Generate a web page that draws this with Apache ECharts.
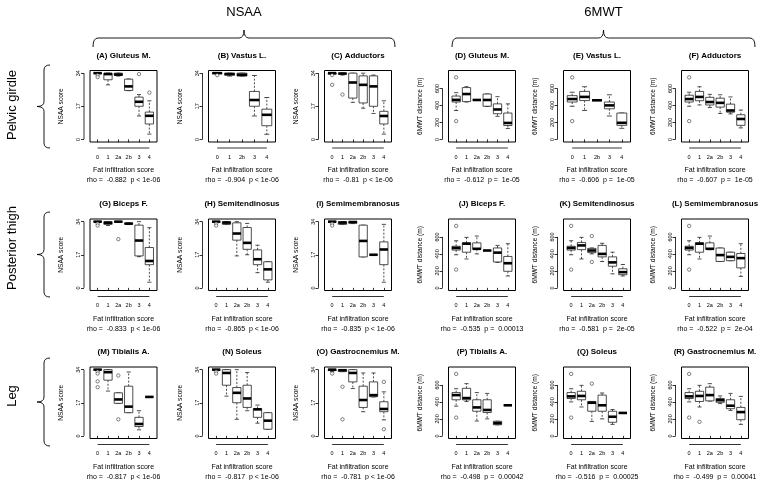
<!DOCTYPE html>
<html><head><meta charset="utf-8">
<script src="https://cdn.jsdelivr.net/npm/echarts@6/dist/echarts.min.js"></script>
<style>html,body{margin:0;padding:0;background:#fff}#c{width:760px;height:480px}</style>
</head><body><div id="c"></div>
<script>
// ---------- DATA ----------
const CATS6 = ['0','1','2a','2b','3','4'];
const CATS5 = ['0','1','2b','3','4'];
const NSAA_TICKS = [0, 17, 34];
const MWT_TICKS = [0, 200, 400, 600];
const NSAA_RANGE = [0, 34];
const MWT_RANGE = [0, 780];

const titles = ['(A) Gluteus M.','(B) Vastus L.','(C) Adductors','(D) Gluteus M.','(E) Vastus L.','(F) Adductors',
  '(G) Biceps F.','(H) Semitendinosus','(I) Semimembranosus','(J) Biceps F.','(K) Semitendinosus','(L) Semimembranosus',
  '(M) Tibialis A.','(N) Soleus','(O) Gastrocnemius M.','(P) Tibialis A.','(Q) Soleus','(R) Gastrocnemius M.'];
const rhoTexts = ['rho =  -0.882  p < 1e-06','rho =  -0.904  p < 1e-06','rho =  -0.81  p < 1e-06',
  'rho =  -0.612  p =  1e-05','rho =  -0.606  p =  1e-05','rho =  -0.607  p =  1e-05',
  'rho =  -0.833  p < 1e-06','rho =  -0.865  p < 1e-06','rho =  -0.835  p < 1e-06',
  'rho =  -0.535  p =  0.00013','rho =  -0.581  p =  2e-05','rho =  -0.522  p =  2e-04',
  'rho =  -0.817  p < 1e-06','rho =  -0.817  p < 1e-06','rho =  -0.781  p < 1e-06',
  'rho =  -0.498  p =  0.00042','rho =  -0.516  p =  0.00025','rho =  -0.499  p =  0.00041'];
const xTitle = 'Fat infiltration score';
const yTitleNSAA = 'NSAA score';
const yTitleMWT = '6MWT distance (m)';
const groupTitles = ['NSAA', '6MWT'];
const rowTitles = ['Pelvic girdle', 'Posterior thigh', 'Leg'];

// box stats per category: [lower whisker, Q1, median, Q3, upper whisker]; outliers per category
const boxA = [[34,34,34,34,34],[28,30.6,33.5,34,34],[32.5,32.8,33.3,34,34],[25,25.1,27.2,30.9,31],[12,17,19.3,21.7,23],[2.7,7.9,12.1,14,19.8]];
const outA = [[33,32],[],[],[],[33.5],[24]];
const boxB = [[34,34,34,34,34],[32.5,33,33.5,34,34],[32.5,32.5,33.2,34,34],[12,17,20.2,24.6,32.8],[2.6,7,12.6,15.5,21.5]];
const outB = [[33],[],[],[],[]];
const boxC = [[33.5,33.5,34,34,34],[33,33.5,33.8,34,34],[19,21.2,29.2,34,34],[16,18.7,28,32.6,34],[13.3,17,27.2,32.6,33],[2.7,7.9,12,14.4,19.8]];
const outC = [[33,28],[23],[],[],[],[]];
const boxD = [[340,440,465,510,550],[440,445,534,610,620],[464,464,464,464,464],[387,390,464,534,534],[271,302,352,418,503],[128,163,193,310,418]];
const outD = [[730,215],[],[],[],[],[]];
const boxE = [[390,440,475,515,555],[340,457,500,565,620],[460,460,460,460,460],[275,360,400,440,525],[130,165,195,310,310]];
const outE = [[730,215],[],[],[],[]];
const boxF = [[390,440,475,520,555],[405,455,500,565,620],[375,405,440,495,530],[305,380,430,485,525],[300,320,340,415,500],[135,165,240,290,345]];
const outF = [[730,215],[],[],[],[],[]];
const boxG = [[34,34,34,34,34],[32,32.6,33.4,34,34],[34,34,34,34,34],[32.5,32.7,33,33.2,33.3],[16,16.4,24.3,32.2,34],[2.9,11.9,13.8,20.7,30.9]];
const outG = [[33,32],[],[25],[],[],[]];
const boxH = [[34,34,34,34,34],[32.5,32.6,33.5,34,34],[16.4,24.5,27.9,33.4,34],[17,19.8,23.1,31,33.1],[7.8,11.9,14.7,19.5,21.9],[2.9,4.1,9.5,13.4,13.4]];
const outH = [[33,32],[],[],[],[],[]];
const boxI = [[34,34,34,34,34],[32.5,32.6,33.5,34,34],[33,33.2,33.8,34,34],[15.9,15.9,24.1,32.2,32.2],[17,17,17,17,17],[2.9,11.9,19.7,23.6,32.6]];
const outI = [[33,32],[],[],[],[],[]];
const boxJ = [[390,445,470,490,555],[340,420,520,530,595],[400,455,460,530,610],[440,440,440,440,440],[300,305,415,470,500],[140,195,290,370,520]];
const outJ = [[730,215],[],[],[],[],[]];
const boxK = [[390,445,470,490,555],[340,450,500,535,595],[400,415,440,465,470],[310,365,400,500,525],[165,255,300,365,420],[140,155,185,225,275]];
const outK = [[730,215],[],[610,305],[],[],[]];
const boxL = [[390,445,470,490,555],[340,420,520,530,595],[450,455,460,530,610],[311,311,386,469,469],[320,320,365,420,420],[135,235,350,405,520]];
const outL = [[730,215],[],[],[],[],[]];
const boxM = [[34,34,34,34,34],[23,28.6,32.7,34,34],[16.7,16.7,18.7,22.1,22.1],[11.9,11.9,15,25.5,32.8],[3.1,4.8,6.1,9.5,12.9],[20,20,20,20,20]];
const outM = [[33,32,28,25],[],[31,8.5],[],[],[]];
const boxN = [[34,34,34,34,34],[20.4,26,32.3,34,34],[8.5,17,22.1,24.8,34],[12.9,14.6,19.2,26,32.5],[6.5,9.5,13.6,14,15.8],[3.4,3.4,7.8,11.9,11.9]];
const outN = [[33,32],[],[],[],[],[]];
const boxO = [[33,33.5,34,34,34],[33,33,33.7,34,34],[24.3,27.7,32.3,34,34],[12.4,14.6,18.4,25.5,32.3],[20,20.1,20.9,27.7,32.3],[8.2,12.4,13.8,17.5,22.6]];
const outO = [[32],[25.2,8.5],[],[],[],[27.7,3.4]];
const boxP = [[350,425,480,510,555],[405,424,445,560,615],[175,290,335,425,510],[200,275,305,425,500],[130,131,150,172,172],[360,360,360,360,360]];
const outP = [[730,215],[],[],[],[],[]];
const boxQ = [[400,440,465,510,555],[340,425,470,525,595],[170,290,390,405,405],[200,290,360,480,505],[135,160,225,290,310],[270,270,270,270,270]];
const outQ = [[730,215],[],[615],[],[],[]];
const boxR = [[400,440,465,510,555],[340,405,470,525,595],[410,412,480,574,615],[380,395,420,440,470],[300,320,355,425,500],[135,190,280,335,465]];
const outR = [[730,215],[165],[],[],[],[]];

const panelBoxes = [boxA,boxB,boxC,boxD,boxE,boxF,boxG,boxH,boxI,boxJ,boxK,boxL,boxM,boxN,boxO,boxP,boxQ,boxR];
const panelOuts = [outA,outB,outC,outD,outE,outF,outG,outH,outI,outJ,outK,outL,outM,outN,outO,outP,outQ,outR];
const panelCats = [CATS6,CATS5,CATS6,CATS6,CATS5,CATS6, CATS6,CATS6,CATS6,CATS6,CATS6,CATS6, CATS6,CATS6,CATS6,CATS6,CATS6,CATS6];

// ---------- LAYOUT ----------
const COL_LEFT = [90, 208.5, 324.5, 448.5, 563.5, 681.5];
const ROW_TOP = [70.5, 219, 367];
const FW = 67, FH = 71.5;
const AX_OFF = 6;
const FONT = 'Liberation Sans, Arial, Helvetica, sans-serif';
const LINE = '#222';

const chart = echarts.init(document.getElementById('c'), null, {renderer: 'canvas'});
const grids = [], xAxes = [], yAxes = [], series = [], graphics = [];

function boxRender(params, api) {
  const x = api.value(0);
  const lo = api.coord([x, api.value(1)]), q1 = api.coord([x, api.value(2)]),
        md = api.coord([x, api.value(3)]), q3 = api.coord([x, api.value(4)]),
        hi = api.coord([x, api.value(5)]);
  const half = api.size([0.4, 0])[0];
  const st = half / 2;
  const cx = md[0];
  const ls = {stroke: LINE, lineWidth: 0.8, fill: null};
  const dash = {stroke: LINE, lineWidth: 0.8, lineDash: [2, 1.6], fill: null};
  return {type: 'group', children: [
    {type: 'line', shape: {x1: cx, y1: q3[1], x2: cx, y2: hi[1]}, style: dash},
    {type: 'line', shape: {x1: cx, y1: q1[1], x2: cx, y2: lo[1]}, style: dash},
    {type: 'line', shape: {x1: cx - st, y1: hi[1], x2: cx + st, y2: hi[1]}, style: ls},
    {type: 'line', shape: {x1: cx - st, y1: lo[1], x2: cx + st, y2: lo[1]}, style: ls},
    {type: 'rect', shape: {x: cx - half, y: q3[1], width: half * 2, height: q1[1] - q3[1]}, style: {stroke: LINE, lineWidth: 0.8, fill: '#fff'}},
    {type: 'line', shape: {x1: cx - half, y1: md[1], x2: cx + half, y2: md[1]}, style: {stroke: '#000', lineWidth: 2.6}}
  ]};
}

for (let i = 0; i < 18; i++) {
  const row = Math.floor(i / 6), col = i % 6;
  const isNS = col < 3;
  const cats = panelCats[i];
  const n = cats.length;
  const yr = isNS ? NSAA_RANGE : MWT_RANGE;
  const ext = (yr[1] - yr[0]) * 0.04;
  const ticks = isNS ? NSAA_TICKS : MWT_TICKS;
  const left = COL_LEFT[col], top = ROW_TOP[row];
  grids.push({left: left, top: top, width: FW, height: FH, show: true, borderColor: '#000', borderWidth: 1,
    backgroundColor: 'transparent', containLabel: false, outerBoundsMode: 'none'});
  const xt = cats.map((c, k) => k + 1);
  xAxes.push({gridIndex: i, type: 'value', min: 0.5 - 0.04 * n, max: n + 0.5 + 0.04 * n, offset: AX_OFF,
    axisLine: {show: false}, splitLine: {show: false},
    axisTick: {show: true, length: 3, customValues: xt, lineStyle: {color: '#000', width: 0.8}},
    axisLabel: {show: true, customValues: xt, fontSize: 5.5, fontFamily: FONT, color: '#000', margin: 6,
      formatter: v => cats[Math.round(v) - 1]}});
  yAxes.push({gridIndex: i, type: 'value', min: yr[0] - ext, max: yr[1] + ext, offset: AX_OFF,
    axisLine: {show: false}, splitLine: {show: false},
    axisTick: {show: true, length: 3, customValues: ticks, lineStyle: {color: '#000', width: 0.8}},
    axisLabel: {show: true, customValues: ticks, rotate: 90, fontSize: 5.5, fontFamily: FONT, color: '#000', margin: 2.5},
    name: isNS ? yTitleNSAA : yTitleMWT, nameLocation: 'middle', nameGap: 19,
    nameTextStyle: {fontSize: 6.6, fontFamily: FONT, color: '#000'}});
  const boxData = panelBoxes[i].map((s, k) => [k + 1, s[0], s[1], s[2], s[3], s[4]]);
  series.push({type: 'custom', xAxisIndex: i, yAxisIndex: i, clip: false, renderItem: boxRender,
    encode: {x: 0, y: [1, 2, 3, 4, 5]}, data: boxData, z: 2});
  const outData = [];
  panelOuts[i].forEach((arr, k) => arr.forEach(v => outData.push([k + 1, v])));
  series.push({type: 'scatter', xAxisIndex: i, yAxisIndex: i, data: outData, symbol: 'circle', symbolSize: 3.4,
    itemStyle: {color: '#fff', borderColor: LINE, borderWidth: 0.7}, z: 3, silent: true});
  // R-style axis lines spanning first..last tick
  series.push({type: 'custom', xAxisIndex: i, yAxisIndex: i, clip: false, z: 1, data: [[1, ticks[0]]],
    renderItem: function (params, api) {
      const cs = params.coordSys;
      const yA = api.coord([1, ticks[0]])[1], yB = api.coord([1, ticks[ticks.length - 1]])[1];
      const xA = api.coord([1, ticks[0]])[0], xB = api.coord([n, ticks[0]])[0];
      const ax = cs.x - AX_OFF, ay = cs.y + cs.height + AX_OFF;
      const st = {stroke: '#000', lineWidth: 0.8};
      return {type: 'group', children: [
        {type: 'line', shape: {x1: ax, y1: yA, x2: ax, y2: yB}, style: st},
        {type: 'line', shape: {x1: xA, y1: ay, x2: xB, y2: ay}, style: st}
      ]};
    }});
  const cxp = left + FW / 2;
  graphics.push({type: 'text', x: cxp, y: top - 15, style: {text: titles[i], font: 'bold 8px ' + FONT, fill: '#000',
    textAlign: 'center', textVerticalAlign: 'middle', align: 'center', verticalAlign: 'middle'}});
  graphics.push({type: 'text', x: cxp, y: top + FH + 28.5, style: {text: xTitle, font: '7px ' + FONT, fill: '#000',
    textAlign: 'center', textVerticalAlign: 'middle', align: 'center', verticalAlign: 'middle'}});
  graphics.push({type: 'text', x: cxp, y: top + FH + 38.5, style: {text: rhoTexts[i], font: '7px ' + FONT, fill: '#000',
    textAlign: 'center', textVerticalAlign: 'middle', align: 'center', verticalAlign: 'middle'}});
}

const BR = {stroke: '#000', lineWidth: 0.9, fill: null};
function seg(x1, y1, x2, y2) { return {type: 'line', shape: {x1, y1, x2, y2}, style: BR}; }
function crv(x1, y1, cx, cy, x2, y2) { return {type: 'bezierCurve', shape: {x1, y1, cpx1: cx, cpy1: cy, x2, y2}, style: BR}; }

// group headers and braces
const HB = [[93, 395], [452, 755]];
HB.forEach((b, k) => {
  const c = (b[0] + b[1]) / 2;
  graphics.push({type: 'text', x: c, y: 12, style: {text: groupTitles[k], font: '13px ' + FONT, fill: '#000',
    textAlign: 'center', textVerticalAlign: 'middle', align: 'center', verticalAlign: 'middle'}});
  graphics.push(crv(b[0], 47, b[0], 38, b[0] + 5, 38));
  graphics.push(seg(b[0] + 5, 38, c - 5, 38));
  graphics.push(crv(c - 5, 38, c, 38, c, 30));
  graphics.push(crv(c, 30, c, 38, c + 5, 38));
  graphics.push(seg(c + 5, 38, b[1] - 5, 38));
  graphics.push(crv(b[1] - 5, 38, b[1], 38, b[1], 47));
});
const VB = [[65, 148], [212, 297], [358, 446]];
const rowCenters = [105, 248, 396];
VB.forEach((b, k) => {
  const c = (b[0] + b[1]) / 2;
  graphics.push({type: 'text', x: 12, y: rowCenters[k], rotation: Math.PI / 2,
    style: {text: rowTitles[k], font: '13px ' + FONT, fill: '#000',
    textAlign: 'center', textVerticalAlign: 'middle', align: 'center', verticalAlign: 'middle'}});
  graphics.push(crv(50, b[0], 44, b[0], 44, b[0] + 5));
  graphics.push(seg(44, b[0] + 5, 44, c - 5));
  graphics.push(crv(44, c - 5, 44, c, 37, c));
  graphics.push(crv(37, c, 44, c, 44, c + 5));
  graphics.push(seg(44, c + 5, 44, b[1] - 5));
  graphics.push(crv(44, b[1] - 5, 44, b[1], 50, b[1]));
});

chart.setOption({
  animation: false,
  backgroundColor: '#fff',
  grid: grids, xAxis: xAxes, yAxis: yAxes, series: series,
  graphic: {elements: graphics}
});
</script></body></html>
